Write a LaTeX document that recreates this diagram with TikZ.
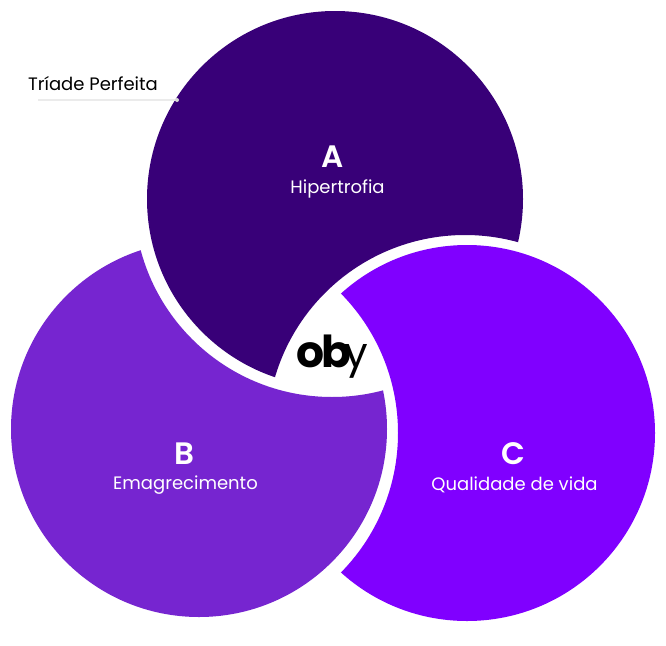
\documentclass[tikz,border=0pt]{standalone}
\usepackage{fontspec}
\setmainfont{Poppins}
\newfontfamily\semib{Poppins SemiBold}
\definecolor{cA}{HTML}{380078}
\definecolor{cB}{HTML}{7625D0}
\definecolor{cC}{HTML}{8000FF}
\definecolor{cLine}{HTML}{EBEBEB}
\definecolor{cDot}{HTML}{D8D8D8}
\tikzset{
  letter/.style={text=white,font=\fontsize{31}{32}\selectfont\semib,inner sep=0pt,anchor=center},
  sublabel/.style={text=white,font=\fontsize{18}{21}\selectfont,inner sep=0pt,anchor=center},
}
\begin{document}
\begin{tikzpicture}[x=1pt,y=-1pt]
\useasboundingbox (0,0) rectangle (666,645);
\fill[white] (0,0) rectangle (666,645);
% A, cut by the enlarged C
\begin{scope}[even odd rule]
  \clip (0,0) rectangle (666,645) (465,433) circle[radius=198];
  \fill[cA] (335,199) circle[radius=188];
\end{scope}
% B, cut by the enlarged A
\begin{scope}[even odd rule]
  \clip (0,0) rectangle (666,645) (332,199) circle[radius=198];
  \fill[cB] (199,429) circle[radius=188];
\end{scope}
% C, cut by the enlarged B
\begin{scope}[even odd rule]
  \clip (0,0) rectangle (666,645) (199,433) circle[radius=199];
  \fill[cC] (467,433) circle[radius=188];
\end{scope}
\node[letter] (la) at (333,157) {A};
\node[sublabel] (sa) at (337.5,189) {Hipertrofia};
\node[letter] (lb) at (184,454) {B};
\node[sublabel] (sb) at (185.5,485) {Emagrecimento};
\node[letter] (lc) at (513,454) {C};
\node[sublabel] (sc) at (514.5,484.5) {Qualidade de vida};
\node[inner sep=0pt,anchor=center,font=\fontsize{18}{21}\selectfont,text=black] (title) at (93,84) {Tríade Perfeita};
\coordinate (ls) at (38,100);
\coordinate (le) at (177,100);
\draw[cLine,line width=1.2pt] (ls) -- (le);
\fill[cDot] (le) circle[radius=2];
\node[inner sep=0pt,anchor=center,font=\fontsize{44}{44}\selectfont,text=black] (logo) at (332.5,357) {\bfseries o\kern-3.5pt b\kern-7pt{\fontsize{42}{42}\selectfont\mdseries y}};
\end{tikzpicture}
\end{document}
